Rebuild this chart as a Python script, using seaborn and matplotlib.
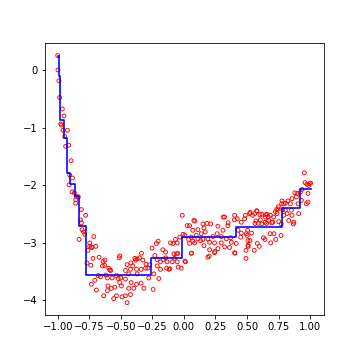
import matplotlib
matplotlib.use("Agg")
import matplotlib.pyplot as plt
import seaborn as sns

# Scatter data
x_pts = [
    -1.00, -0.998, -0.99, -0.984, -0.963, -0.95, -0.976, -0.971, -0.958, -0.923, -0.944, -0.937, -0.913, -0.894, -0.905, -0.883,
    -0.91, -0.886, -0.868, -0.852, -0.836, -0.857, -0.857, -0.812, -0.778, -0.82, -0.812, -0.807, -0.794, -0.786, -0.831, -0.714, -0.746,
    -0.746, -0.728, -0.698, -0.76, -0.72, -0.672, -0.767, -0.738, -0.64, -0.627, -0.645, -0.595, -0.587, -0.508, -0.513, -0.68, -0.661,
    -0.619, -0.606, -0.569, -0.534, -0.521, -0.5, -0.706, -0.733, -0.601, -0.574, -0.548, -0.693, -0.606, -0.508, -0.495, -0.635,
    -0.556, -0.534, -0.49, -0.733, -0.625, -0.58,
    -0.013, 0.026, -0.032, -0.006, 0.008, -0.053, -0.066, -0.106, -0.085, -0.204, -0.217, -0.252, -0.167, -0.145, -0.079, -0.058,
    -0.048, -0.23, -0.336, -0.37, -0.352, -0.383, -0.325, -0.145, -0.164, -0.212, -0.185, -0.133, -0.093, -0.053, 0.013,
    -0.389, -0.42, -0.30, -0.27, -0.45,
    -0.463, -0.423, -0.375, -0.339, -0.304, -0.286, -0.405, -0.185, -0.137, -0.119, -0.021, -0.212, -0.238, -0.437, -0.37, -0.278,
    -0.198, -0.463, -0.418, -0.375, -0.339, -0.317, -0.437, -0.397, -0.244, -0.423, -0.463, -0.45,
    -0.045, -0.111, 0.008, 0.061, -0.075,
    0.045, 0.079, 0.071, 0.111, 0.151, 0.183, 0.212, 0.159, 0.169, 0.138, 0.098, 0.058, 0.037, 0.071, 0.111, 0.132, 0.151, 0.045,
    0.085, 0.19, 0.23, 0.264, 0.296, 0.204, 0.243, 0.296, 0.336, 0.37, 0.376, 0.323, 0.362, 0.27, 0.204, 0.058, 0.243, 0.19, 0.402,
    0.27, 0.31, 0.349, 0.323, 0.402, 0.423, 0.455, 0.481, 0.521, 0.487, 0.429, 0.455, 0.495, 0.45, 0.508, 0.508, 0.415,
    0.955, 0.976, 0.995, 1.005, 0.937, 0.923, 0.879, 0.897, 0.891, 0.984, 0.984, 0.971, 0.931, 0.905, 0.857, 0.825, 0.804, 0.778,
    0.791, 0.844, 0.91, 0.746, 0.725, 0.738, 0.783, 0.804, 0.852, 0.817, 0.791, 0.857, 0.831, 0.871, 0.712, 0.685, 0.659, 0.619,
    0.579, 0.645, 0.672, 0.704, 0.561, 0.545, 0.606, 0.571, 0.645, 0.752, 0.772, 0.868, 0.96, 0.99,
    0.505, 0.537, 0.502, 0.524, 0.582, 0.558, 0.598, 0.63, 0.643, 0.683, 0.714, 0.688, 0.728, 0.77, 0.492, 0.51, 0.563, 0.59,
    0.617, 0.656, 0.696, 0.577, 0.603, 0.648, 0.669, 0.736, 0.749, 0.775,
    0.087, 0.312, 0.40, 0.524, 0.201, 0.246, 0.405, 0.492, 0.16, 0.35,
]
y_pts = [
    0.26, 0.01, -0.18, -0.47, -0.67, -0.79, -0.93, -0.95, -1.04, -1.04, -1.15, -1.32, -1.30, -1.57, -1.82, -1.87,
    -1.99, -2.11, -2.13, -2.19, -2.20, -2.25, -2.31, -2.42, -2.52, -2.60, -2.65, -2.77, -2.81, -2.85, -2.94, -2.89, -3.00,
    -3.06, -3.08, -3.06, -3.13, -3.27, -3.25, -3.35, -3.39, -3.32, -3.39, -3.40, -3.44, -3.47, -3.23, -3.26, -3.57, -3.59,
    -3.56, -3.61, -3.61, -3.57, -3.62, -3.61, -3.65, -3.72, -3.75, -3.79, -3.77, -3.82, -3.83, -3.69, -3.75, -3.92,
    -3.97, -3.92, -3.94, -3.07, -3.30, -3.48,
    -2.52, -2.70, -2.90, -2.85, -2.87, -3.00, -2.94, -3.00, -3.01, -2.97, -3.01, -3.09, -3.12, -3.16, -3.19, -3.19,
    -3.18, -3.22, -3.18, -3.28, -3.26, -3.30, -3.30, -3.26, -3.29, -3.29, -3.33, -3.33, -3.33, -3.33, -3.33,
    -3.27, -3.35, -3.37, -3.38, -3.38,
    -3.48, -3.46, -3.46, -3.46, -3.44, -3.44, -3.40, -3.46, -3.44, -3.46, -3.44, -3.40, -3.54, -3.54, -3.54, -3.61,
    -3.62, -3.63, -3.69, -3.72, -3.70, -3.79, -3.79, -3.79, -3.81, -3.90, -3.92, -4.04,
    -3.42, -3.45, -3.32, -3.18, -3.27,
    -2.70, -2.61, -2.78, -2.77, -2.67, -2.66, -2.67, -2.74, -2.81, -2.84, -2.87, -2.90, -2.94, -2.97, -2.93, -2.96, -2.94, -3.01,
    -3.00, -2.93, -2.89, -2.84, -2.89, -2.99, -3.00, -3.00, -2.93, -2.91, -2.99, -3.07, -3.08, -3.10, -3.12, -3.18, -3.17, -3.25, -3.17,
    -2.71, -2.78, -2.70, -2.55, -2.52, -2.58, -2.64, -2.58, -2.49, -2.52, -2.78, -2.83, -2.84, -2.90, -2.96, -3.04, -3.01,
    -1.78, -1.98, -1.97, -1.96, -2.07, -2.12, -2.13, -2.14, -2.20, -2.14, -2.29, -2.32, -2.26, -2.32, -2.23, -2.27, -2.31, -2.27,
    -2.32, -2.32, -2.49, -2.41, -2.46, -2.49, -2.42, -2.43, -2.43, -2.49, -2.52, -2.52, -2.61, -2.64, -2.55, -2.52, -2.50, -2.50,
    -2.45, -2.55, -2.61, -2.64, -2.49, -2.52, -2.60, -2.62, -2.64, -2.63, -2.67, -2.67, -1.95, -2.00,
    -2.78, -2.83, -2.87, -2.96, -3.01, -3.13, -3.06, -2.91, -2.94, -2.84, -2.84, -3.00, -2.94, -2.87, -3.13, -3.06, -2.66, -2.66,
    -2.67, -2.66, -2.65, -2.44, -2.51, -2.51, -2.55, -2.42, -2.37, -2.32,
    -2.62, -2.55, -2.60, -2.47, -3.23, -3.15, -3.18, -3.27, -3.05, -2.65,
]

# Step prediction line: left edge of each step and its level
step_x = [-1.000, -0.992, -0.980, -0.952, -0.926, -0.900, -0.866, -0.833, -0.778, -0.262, -0.018, 0.415, 0.775, 0.918, 1.010]
step_y = [0.26, -0.09, -0.86, -1.17, -1.79, -1.98, -2.19, -2.71, -3.56, -3.26, -2.90, -2.72, -2.39, -2.06, -2.06]

fig, ax = plt.subplots(figsize=(5, 5), dpi=72)
fig.subplots_adjust(left=0.125, right=0.9, bottom=0.125, top=0.88)

sns.scatterplot(x=x_pts, y=y_pts, ax=ax, marker="o", s=15,
                facecolors="none", edgecolor="red", linewidth=0.9)
sns.lineplot(x=step_x, y=step_y, ax=ax, color="blue", linewidth=1.6,
             drawstyle="steps-post", estimator=None, sort=False)

ax.set_xticks([-1.0, -0.75, -0.5, -0.25, 0.0, 0.25, 0.5, 0.75, 1.0])
ax.set_yticks([0, -1, -2, -3, -4])

fig.savefig("out.png", dpi=72)
